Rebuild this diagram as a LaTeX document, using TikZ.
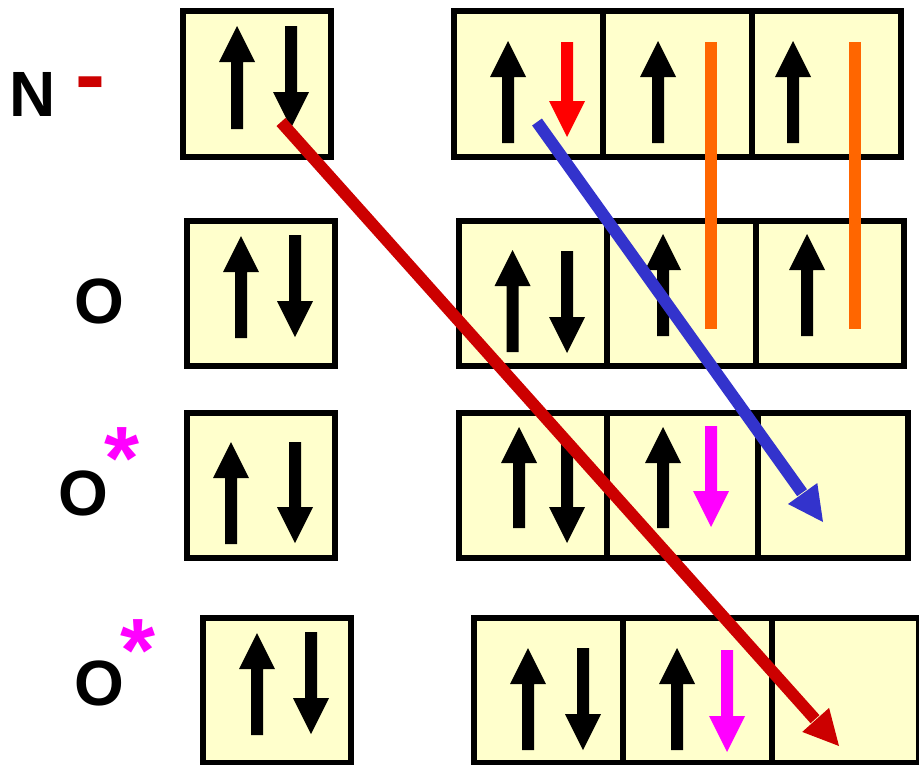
\documentclass[tikz,border=0pt]{standalone}
\usepackage{fontspec}
\setmainfont{Liberation Sans}
\usetikzlibrary{calc}
\definecolor{boxfill}{HTML}{FFFFCC}
\definecolor{redline}{HTML}{CC0000}
\definecolor{redspin}{HTML}{FF0000}
\definecolor{orangeline}{HTML}{FF6600}
\definecolor{blueline}{HTML}{3333CC}
\definecolor{magspin}{HTML}{FF00FF}
\newcommand{\spinup}[4]{\fill[#1] ({#2-6},#3) -- ({#2-6},{#4+36}) -- ({#2-18},{#4+36}) -- (#2,#4) -- ({#2+18},{#4+36}) -- ({#2+6},{#4+36}) -- ({#2+6},#3) -- cycle;}
\newcommand{\spindown}[4]{\fill[#1] ({#2-6},#3) -- ({#2-6},{#4-36}) -- ({#2-18},{#4-36}) -- (#2,#4) -- ({#2+18},{#4-36}) -- ({#2+6},{#4-36}) -- ({#2+6},#3) -- cycle;}
\newcommand{\orbital}[5]{\node[orbbox, minimum width={#4-#2}, minimum height={#5-#3}] (#1) at ({(#2+#4)/2},{(#3+#5)/2}) {};}
\tikzset{
  orbbox/.style={draw=black, fill=boxfill, line width=6pt, inner sep=0pt, outer sep=0pt, rectangle},
  lbl/.style={inner sep=0pt, font=\fontsize{64}{64}\selectfont\bfseries},
  sup/.style={inner sep=0pt, anchor=north, font=\fontsize{90}{90}\selectfont\bfseries},
  bigline/.style={line width=12pt},
}
\begin{document}
\begin{tikzpicture}[x=1pt,y=-1pt]
\useasboundingbox (0,0) rectangle (919,764);
\clip (0,0) rectangle (919,764);
% row 1 (N-)
\orbital{s1}{183}{11}{331}{157}
\orbital{pa1}{454}{11}{603}{157}
\orbital{pb1}{603}{11}{752}{157}
\orbital{pc1}{752}{11}{901}{157}
% row 2 (O)
\orbital{s2}{187}{221}{335}{366}
\orbital{pa2}{459}{221}{607}{366}
\orbital{pb2}{607}{221}{756}{366}
\orbital{pc2}{756}{221}{904}{366}
% row 3 (O*)
\orbital{s3}{187}{413}{335}{558}
\orbital{pa3}{459}{413}{607}{558}
\orbital{pb3}{607}{413}{758}{558}
\orbital{pc3}{758}{413}{908}{558}
% row 4 (O*)
\orbital{s4}{203}{618}{351}{763}
\orbital{pa4}{474}{618}{623}{763}
\orbital{pb4}{623}{618}{772}{763}
\orbital{pc4}{772}{618}{919}{763}
% labels
\node[lbl] (labN) at (33,94) {N};
\node[sup, text=redline] (labMinus) at (90,77) {-};
\node[lbl] (labO2) at (99,301) {O};
\node[lbl] (labO3) at (83,493) {O};
\node[sup, text=magspin] (labStar3) at (122,427) {*};
\node[lbl] (labO4) at (99,683) {O};
\node[sup, text=magspin] (labStar4) at (138,619) {*};
% spins row 1
\spinup{black}{237}{129}{26}
\spindown{black}{291}{26}{128}
\spinup{black}{508}{143}{41}
\spindown{redspin}{567}{42}{137}
\spinup{black}{658}{143}{41}
\spinup{black}{793}{143}{41}
% spins row 2
\spinup{black}{241}{338}{236}
\spindown{black}{295}{235}{337}
\spinup{black}{512.5}{352}{250}
\spindown{black}{567}{251}{353}
\spinup{black}{663}{336}{234}
\spinup{black}{807}{336}{234}
% spins row 3
\spinup{black}{231}{544}{442}
\spindown{black}{295}{442}{543}
\spinup{black}{519}{528}{427}
\spindown{black}{567}{440}{543}
\spinup{black}{663}{528}{427}
\spindown{magspin}{711}{426}{527}
% spins row 4
\spinup{black}{257}{735}{633}
\spindown{black}{311}{632}{734}
\spinup{black}{528}{750}{648}
\spindown{black}{583}{648}{750}
\spinup{black}{677}{750}{648}
\spindown{magspin}{727}{650}{752}
% orange bars
\coordinate (oa1) at (711,42); \coordinate (oa2) at (711,329);
\coordinate (ob1) at (855,42); \coordinate (ob2) at (855,329);
\draw[bigline, orangeline] (oa1) -- (oa2);
\draw[bigline, orangeline] (ob1) -- (ob2);
% red diagonal arrow
\coordinate (redS) at (281,122);
\coordinate (redT) at (839,746);
\coordinate (redB) at ($(redT)!35pt!(redS)$);
\draw[bigline, redline] (redS) -- ($(redB)!-1pt!(redT)$);
\fill[redline] (redT) -- ($(redB)!18pt!90:(redT)$) -- ($(redB)!18pt!-90:(redT)$) -- cycle;
% blue diagonal arrow
\coordinate (bluS) at (537,122);
\coordinate (bluT) at (823,522);
\coordinate (bluB) at ($(bluT)!35pt!(bluS)$);
\draw[bigline, blueline] (bluS) -- ($(bluB)!-1pt!(bluT)$);
\fill[blueline] (bluT) -- ($(bluB)!18pt!90:(bluT)$) -- ($(bluB)!18pt!-90:(bluT)$) -- cycle;
\end{tikzpicture}
\end{document}
